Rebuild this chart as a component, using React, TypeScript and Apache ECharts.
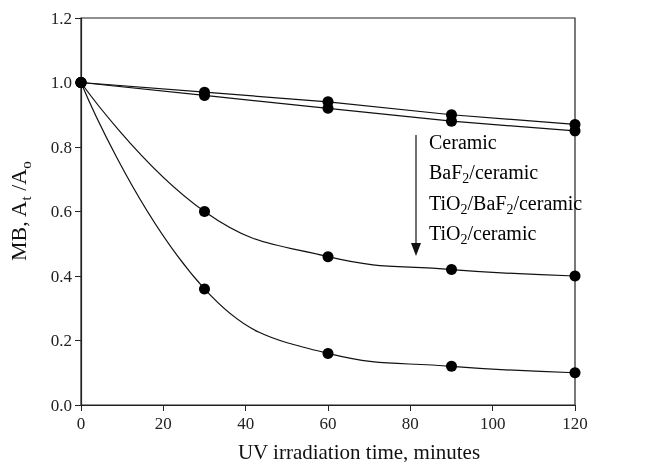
import React, { useEffect, useRef } from "react";
import * as echarts from "echarts";

const times = [0, 30, 60, 90, 120];
const ceramic = [1.0, 0.97, 0.94, 0.9, 0.87];
const baf2Ceramic = [1.0, 0.96, 0.92, 0.88, 0.85];
const tio2Baf2Ceramic = [1.0, 0.6, 0.46, 0.42, 0.4];
const tio2Ceramic = [1.0, 0.36, 0.16, 0.12, 0.1];

const FONT = "'Liberation Serif', 'Times New Roman', serif";

export default function App() {
  const ref = useRef<HTMLDivElement>(null);
  useEffect(() => {
    if (!ref.current) return;
    const chart = echarts.init(ref.current, undefined, { renderer: "svg" });
    const mk = (name: string, vals: number[], smooth: number | boolean) => ({
      name,
      type: "line",
      data: times.map((t, i) => [t, vals[i]]),
      smooth,
      symbol: "circle",
      symbolSize: 11,
      itemStyle: { color: "#000" },
      lineStyle: { color: "#111", width: 1.2 },
    });
    const sub = { fontSize: 14, fontFamily: FONT, color: "#111", verticalAlign: "bottom", lineHeight: 27 };
    const main = { fontSize: 20, fontFamily: FONT, color: "#111", lineHeight: 22 };
    const legendItems = [
      "{m|Ceramic}",
      "{m|BaF}{s|2}{m|/ceramic}",
      "{m|TiO}{s|2}{m|/BaF}{s|2}{m|/ceramic}",
      "{m|TiO}{s|2}{m|/ceramic}",
    ];
    chart.setOption({
      animation: false,
      grid: { left: 81, right: 72, top: 18, bottom: 57, outerBoundsMode: "none", containLabel: false },
      xAxis: {
        type: "value",
        min: 0,
        max: 120,
        interval: 20,
        name: "UV irradiation time, minutes",
        nameLocation: "middle",
        nameGap: 36,
        nameTextStyle: { fontSize: 21, fontFamily: FONT, color: "#111", padding: [0, 0, 0, 62] },
        axisLine: { show: true, lineStyle: { color: "#222", width: 1.2 } },
        axisTick: { show: true, inside: false, length: 6, lineStyle: { color: "#222" } },
        axisLabel: { fontSize: 17, fontFamily: FONT, color: "#222", margin: 10 },
        splitLine: { show: false },
      },
      yAxis: {
        type: "value",
        min: 0,
        max: 1.2,
        interval: 0.2,
        name: "{m|MB, A}{s|t}{m| /A}{s|o}",
        nameLocation: "middle",
        nameRotate: 90,
        nameGap: 48,
        nameTextStyle: {
          rich: {
            m: { fontSize: 22, fontFamily: FONT, color: "#111", lineHeight: 24 },
            s: { fontSize: 15, fontFamily: FONT, color: "#111", verticalAlign: "bottom", lineHeight: 30 },
          },
        },
        axisLine: { show: true, lineStyle: { color: "#222", width: 1.2 } },
        axisTick: { show: true, inside: false, length: 6, lineStyle: { color: "#222" } },
        axisLabel: {
          fontSize: 17,
          fontFamily: FONT,
          color: "#222",
          margin: 9,
          formatter: (v: number) => v.toFixed(1),
        },
        splitLine: { show: false },
      },
      graphic: [
        {
          type: "rect",
          shape: { x: 81, y: 18, width: 494, height: 387 },
          style: { fill: "none", stroke: "#222", lineWidth: 1.2 },
          silent: true,
          z: -1,
        },
        {
          type: "line",
          shape: { x1: 416, y1: 135, x2: 416, y2: 246 },
          style: { stroke: "#111", lineWidth: 1.2 },
        },
        {
          type: "polygon",
          shape: { points: [[411, 243], [421, 243], [416, 256]] },
          style: { fill: "#111" },
        },
        ...legendItems.map((t, i) => ({
          type: "text",
          left: 429,
          top: 132 + i * 30.3,
          style: {
            text: t,
            rich: { m: main, s: sub },
          },
        })),
      ],
      series: [
        mk("Ceramic", ceramic, false),
        mk("BaF2/ceramic", baf2Ceramic, false),
        mk("TiO2/BaF2/ceramic", tio2Baf2Ceramic, 0.45),
        mk("TiO2/ceramic", tio2Ceramic, 0.45),
      ],
    });
    return () => chart.dispose();
  }, []);
  return (
    <div
      ref={ref}
      style={{ position: "fixed", left: 0, top: 0, width: 647, height: 462 }}
    />
  );
}
